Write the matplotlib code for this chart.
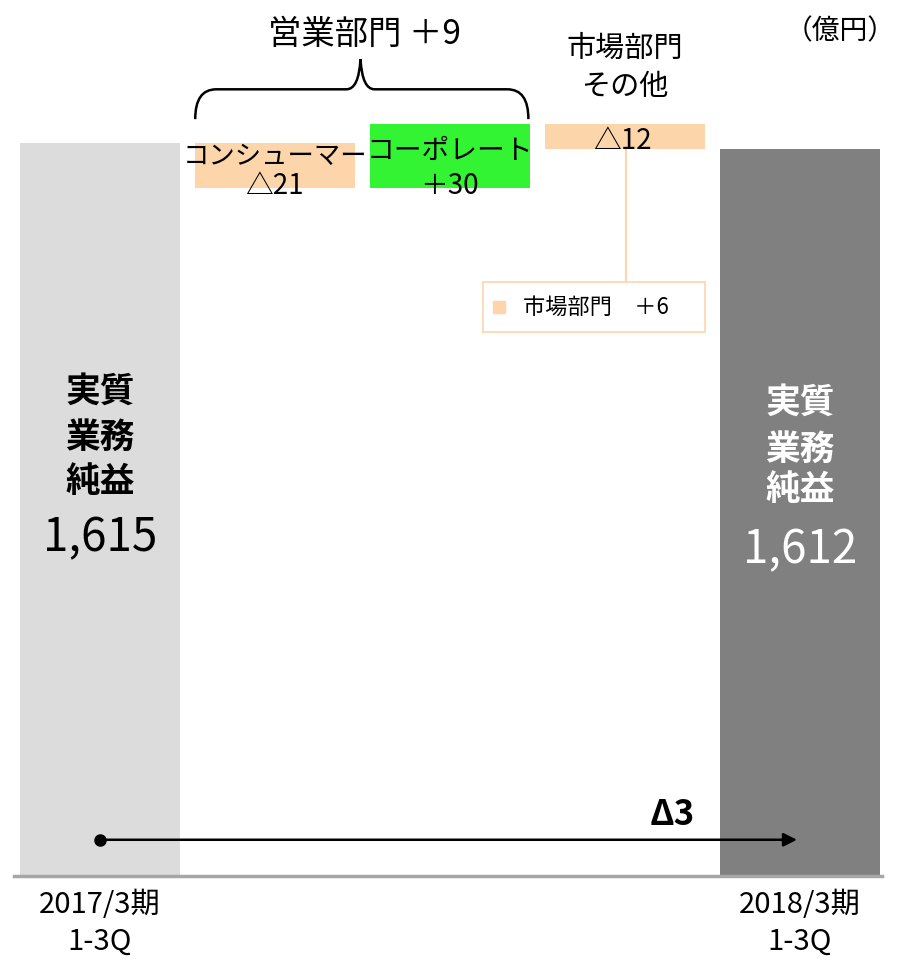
#! /usr/bin/python3
#-*-coding: utf-8-*-
# waterfall of 実質業務純益 (2017/3期 1-3Q -> 2018/3期 1-3Q)

import matplotlib
matplotlib.use("Agg")
import matplotlib.pyplot as plt
from matplotlib.path import Path
from matplotlib.patches import PathPatch, Rectangle

plt.rcParams['font.family'] = ['Noto Sans CJK JP', 'DejaVu Sans']

# data (億円)
periods = ["2017/3期\n1-3Q", "2018/3期\n1-3Q"]
start_value = 1615
end_value = 1612
step_names = ["コンシューマー", "コーポレート", "市場部門\nその他"]
step_values = [-21, 30, -12]
step_labels = ["△21", "＋30", "△12"]
group_label = "営業部門 ＋9"
sub_label = "市場部門　＋6"
diff_label = "Δ3"

AXIS_FLOOR = 1271   # axis is cut, bars start here
AXIS_TOP = 1682

peach = "#FDD5AB"
green = "#33F433"

fig = plt.figure(figsize=(9, 9.6), dpi=100)
ax = fig.add_axes([14/900, 84/960, 868/900, 876/960])
ax.set_xlim(-0.49, 4.47)
ax.set_ylim(AXIS_FLOOR, AXIS_TOP)

w = 0.915
# first and last bar
ax.bar(0, start_value - AXIS_FLOOR, bottom=AXIS_FLOOR, width=w, color="#DCDCDC", zorder=1)
ax.bar(4, end_value - AXIS_FLOOR, bottom=AXIS_FLOOR, width=w, color="#808080", zorder=1)

# floating steps
level = start_value
step_colors = [peach, green, peach]
for i, v in enumerate(step_values):
    low = min(level, level + v)
    ax.bar(i + 1, abs(v), bottom=low, width=w, color=step_colors[i], zorder=1)
    level += v

# labels of the steps
ax.text(1, 1608.7, step_names[0], ha="center", va="center", fontsize=19, zorder=3)
ax.text(1, 1594.6, step_labels[0], ha="center", va="center", fontsize=20, zorder=3)
ax.text(2, 1611.0, step_names[1], ha="center", va="center", fontsize=20, zorder=3)
ax.text(2, 1594.6, step_labels[1], ha="center", va="center", fontsize=20, zorder=3)
ax.text(2.986, 1615.7, step_labels[2], ha="center", va="center", fontsize=20, zorder=3)
names = step_names[2].split("\n")
ax.text(3, 1659.0, names[0], ha="center", va="center", fontsize=21)
ax.text(3, 1641.0, names[1], ha="center", va="center", fontsize=21)

# big bar labels
for x, val, col, ys in [(0, start_value, "black", [1498.4, 1476.8, 1456.1, 1429.4]),
                        (4, end_value, "white", [1493.2, 1471.1, 1452.4, 1424.2])]:
    for word, y in zip(["実質", "業務", "純益"], ys[:3]):
        ax.text(x, y, word, ha="center", va="center", fontsize=25,
                fontweight="bold", color=col, zorder=3)
    ax.text(x, ys[3], "{:,}".format(val), ha="center", va="center",
            fontsize=33, color=col, zorder=3)

# brace over the two business steps
xl, xr, xm = 1 - w/2 + 0.003, 2 + w/2 - 0.008, 1.49
yb, yh, yp = 1626.1, 1640.1, 1654.2
r = 0.12
verts = [(xl, yb), (xl, yh), (xl + r, yh),
         (xm - 0.08, yh), (xm - 0.01, yh), (xm, yp),
         (xm + 0.01, yh), (xm + 0.08, yh),
         (xr - r, yh), (xr, yh), (xr, yb)]
codes = [Path.MOVETO, Path.CURVE3, Path.CURVE3,
         Path.LINETO, Path.CURVE3, Path.CURVE3,
         Path.CURVE3, Path.CURVE3,
         Path.LINETO, Path.CURVE3, Path.CURVE3]
ax.add_patch(PathPatch(Path(verts, codes), fill=False, lw=1.8, color="black"))
ax.text(xm + 0.02, 1666.0, group_label, ha="center", va="center", fontsize=24)

ax.text(4.23, 1667.4, "（億円）", ha="center", va="center", fontsize=20)

# callout for the market part
ax.plot([3.009, 3.009], [1612, 1549.5], color=peach, lw=1.5, zorder=0)
ax.add_patch(Rectangle((2.19, 1526.1), 1.267, 23.4, facecolor="white",
                       edgecolor=peach, lw=1.2, zorder=2))
ax.plot(2.283, 1537.8, "s", color=peach, ms=9, zorder=3)
ax.text(2.42, 1537.8, sub_label, ha="left", va="center", fontsize=16, zorder=3)

# total change arrow
ax.plot(0, 1288.0, "o", color="black", ms=8, zorder=4)
ax.annotate("", xy=(4.0, 1288.0), xytext=(0, 1288.0),
            arrowprops=dict(arrowstyle="-|>", color="black", lw=1.8,
                            mutation_scale=20), zorder=4)
ax.text(3.27, 1299.8, diff_label, ha="center", va="center", fontsize=25,
        fontweight="bold", zorder=4)

# axes cosmetics
for s in ["top", "left", "right"]:
    ax.spines[s].set_visible(False)
ax.spines["bottom"].set_color("#A6A6A6")
ax.spines["bottom"].set_linewidth(2.5)
ax.set_yticks([])
ax.set_xticks([0, 4])
ax.set_xticklabels(periods, fontsize=21, linespacing=1.3)
ax.tick_params(axis="x", length=0, pad=10)

fig.savefig("out.png", dpi=100)
